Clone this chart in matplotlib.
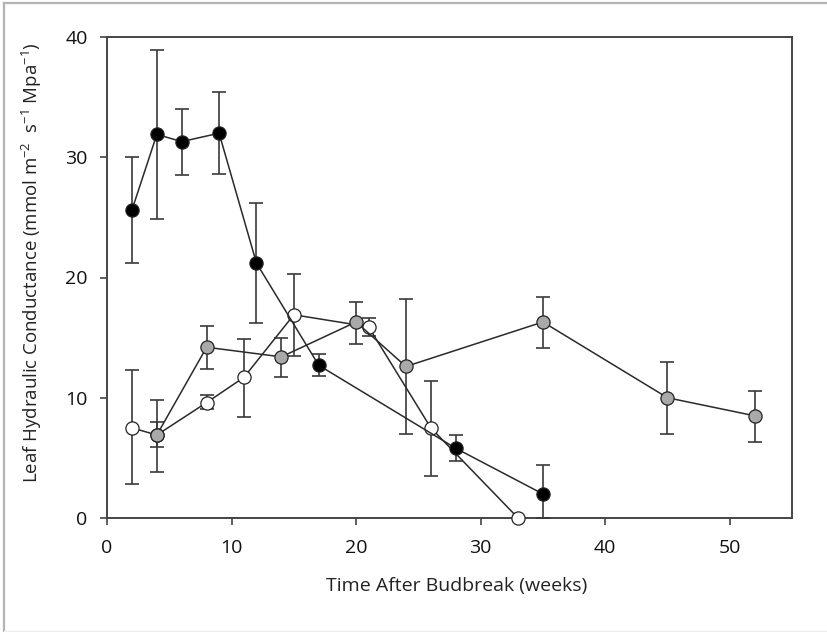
import numpy as np
import matplotlib.pyplot as plt
from matplotlib.lines import Line2D

plt.rcParams['font.family'] = ['Open Sans', 'DejaVu Sans']
plt.rcParams['mathtext.fontset'] = 'custom'
plt.rcParams['mathtext.rm'] = 'Open Sans'
plt.rcParams['mathtext.default'] = 'regular'

# black series
black_x = [2, 4, 6, 9, 12, 17, 28, 35]
black_y = [25.6, 31.9, 31.3, 32.0, 21.2, 12.7, 5.8, 2.0]
black_lo = [21.2, 24.9, 28.5, 28.6, 16.2, 11.8, 4.7, 0.0]
black_hi = [30.0, 38.9, 34.0, 35.4, 26.2, 13.6, 6.9, 4.4]

# grey series
grey_x = [4, 8, 14, 20, 24, 35, 45, 52]
grey_y = [6.9, 14.2, 13.4, 16.3, 12.6, 16.3, 10.0, 8.5]
grey_lo = [3.8, 12.4, 11.7, 14.5, 7.0, 14.1, 7.0, 6.3]
grey_hi = [9.8, 16.0, 15.0, 18.0, 18.2, 18.4, 13.0, 10.6]

# white series
white_x = [2, 4, 8, 11, 15, 21, 26, 33]
white_y = [7.5, 6.9, 9.6, 11.7, 16.9, 15.9, 7.5, 0.0]
white_lo = [2.8, 5.9, 9.1, 8.4, 13.5, 15.1, 3.5, 0.0]
white_hi = [12.3, 8.0, 10.2, 14.9, 20.3, 16.6, 11.4, 0.0]

fig = plt.figure(figsize=(8.28, 6.32), dpi=100)
ax = fig.add_axes([107/828, 1 - 518/632, 685/828, 481/632])

# outer frame (only top and left really visible)
fl, ft, fb = 4/828, 1 - 3/632, 1/632
fig.lines.append(Line2D([fl, 1], [ft, ft], transform=fig.transFigure, color='#b4b4b4', lw=1.6))
fig.lines.append(Line2D([fl, fl], [fb, ft], transform=fig.transFigure, color='#b4b4b4', lw=1.6))
fig.lines.append(Line2D([fl, 1], [fb, fb], transform=fig.transFigure, color='#eeeeee', lw=1.0))

series = [
    (white_x, white_y, white_lo, white_hi, 'white'),
    (grey_x, grey_y, grey_lo, grey_hi, '#a9a9a9'),
    (black_x, black_y, black_lo, black_hi, 'black'),
]
for i, (x, y, lo, hi, fc) in enumerate(series):
    y = np.array(y)
    err = [y - np.array(lo), np.array(hi) - y]
    ax.errorbar(x, y, yerr=err, fmt='none', ecolor='#3a3a3a', elinewidth=1.2,
                capsize=5, capthick=1.2, zorder=2 + i)
    ax.plot(x, y, '-', color='#2a2a2a', lw=1.1, marker='o', markersize=9.5,
            markerfacecolor=fc, markeredgecolor='#222222', markeredgewidth=0.9,
            zorder=5 + i, clip_on=False)

ax.set_xlim(0, 55)
ax.set_ylim(0, 40)
ax.set_xticks([0, 10, 20, 30, 40, 50])
ax.set_yticks([0, 10, 20, 30, 40])
for s in ax.spines.values():
    s.set_color('#444444')
    s.set_linewidth(1.4)
ax.tick_params(direction='out', length=5, width=1.2, color='#444444',
               labelsize=14, labelcolor='#111111', pad=9)
ax.tick_params(axis='x', pad=10)

ax.set_xlabel('Time After Budbreak (weeks)', fontsize=14, color='#222222')
ax.set_ylabel('Leaf Hydraulic Conductance (mmol m$^{-2}$  s$^{-1}$ Mpa$^{-1}$)',
              fontsize=13.4, color='#222222')
ax.xaxis.set_label_coords(0.51, -0.122)
ax.yaxis.set_label_coords(-0.092, 0.53)

fig.savefig('out.png', dpi=100)
